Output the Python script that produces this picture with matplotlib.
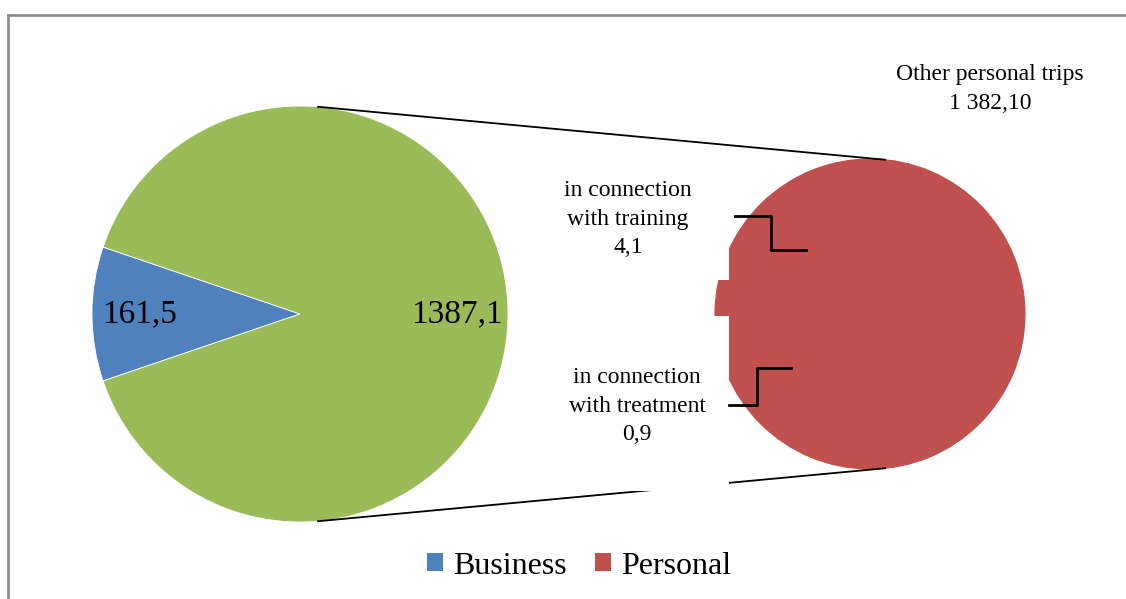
import numpy as np
import matplotlib
matplotlib.use("Agg")
import matplotlib.pyplot as plt
from matplotlib.patches import Rectangle, Patch
from matplotlib.lines import Line2D

plt.rcParams["font.family"] = ["Liberation Serif", "DejaVu Serif"]

# ── Data ─────────────────────────────────────────────────────────────────────
main_labels = ["Business", "Personal"]
main_values = [161.5, 1387.1]
main_colors = ["#4F81BD", "#9BBB59"]

sub_labels = ["in connection\nwith training", "in connection\nwith treatment", "Other personal trips"]
sub_values = [4.1, 0.9, 1382.10]
sub_color = "#C0504D"

W, H = 1126, 599


def fmt1(v):
    return f"{v:.1f}".replace(".", ",")


def fmt2(v):
    return f"{v:,.2f}".replace(",", " ").replace(".", ",")


fig = plt.figure(figsize=(W / 100, H / 100), dpi=100)
ax = fig.add_axes([0, 0, 1, 1])
ax.set_xlim(0, W)
ax.set_ylim(0, H)
ax.axis("off")

# ── Primary pie ──────────────────────────────────────────────────────────────
c1, r1 = (300, H - 314), 208
total = sum(main_values)
start = 180 - main_values[0] / total * 360 / 2
wedges, _ = ax.pie(main_values, colors=main_colors, startangle=start, radius=r1,
                   center=c1, frame=True, wedgeprops=dict(linewidth=0.6, edgecolor="white"))
for w, v, k in zip(wedges, main_values, [0.77, 0.755]):
    a = np.deg2rad((w.theta1 + w.theta2) / 2)
    ax.text(c1[0] + k * r1 * np.cos(a), c1[1] + k * r1 * np.sin(a), fmt1(v),
            ha="center", va="center", fontsize=24, zorder=5)

# ── Secondary pie (Personal breakdown) ──────────────────────────────────────
c2, r2 = (870, H - 314), 155
sub_total = sum(sub_values)
ax.pie(sub_values, colors=[sub_color] * 3, startangle=180 - sub_values[0] / sub_total * 360,
       radius=r2, center=c2, frame=True, wedgeprops=dict(linewidth=0.8, edgecolor=sub_color))

# connector lines
for a1, a2 in [(85, 84.4), (-85, -84.4)]:
    p1 = (c1[0] + r1 * np.cos(np.deg2rad(a1)), c1[1] + r1 * np.sin(np.deg2rad(a1)))
    p2 = (c2[0] + r2 * np.cos(np.deg2rad(a2)), c2[1] + r2 * np.sin(np.deg2rad(a2)))
    ax.plot([p1[0], p2[0]], [p1[1], p2[1]], color="black", lw=1.3, zorder=3)

# label boxes (white background, as drawn by the original)
ax.add_patch(Rectangle((555, H - 280), 729 - 555, 115, facecolor="white", edgecolor="none", zorder=4))
ax.add_patch(Rectangle((555, H - 490.5), 729 - 555, 490.5 - 316, facecolor="white", edgecolor="none", zorder=4))

ax.text(628, H - 219, f"{sub_labels[0]}\n{fmt1(sub_values[0])}", ha="center", va="center",
        fontsize=17, linespacing=1.45, zorder=6)
ax.text(637, H - 406, f"{sub_labels[1]}\n{fmt1(sub_values[1])}", ha="center", va="center",
        fontsize=17, linespacing=1.45, zorder=6)
ax.text(990, H - 89, f"{sub_labels[2]}\n{fmt2(sub_values[2])}", ha="center", va="center",
        fontsize=17, linespacing=1.45, zorder=6)

# leader lines
ax.plot([735, 771, 771, 806], [H - 216, H - 216, H - 250, H - 250], color="black", lw=2, zorder=6)
ax.plot([729, 757, 757, 791], [H - 405, H - 405, H - 368, H - 368], color="black", lw=2, zorder=6)

ax.set_xlim(0, W)
ax.set_ylim(0, H)
ax.set_aspect("auto")

# ── Chart frame ──────────────────────────────────────────────────────────────
fig.add_artist(Line2D([8 / W, 8 / W], [0, 1 - 15 / H], color="#8E8E8E", lw=2, transform=fig.transFigure))
fig.add_artist(Line2D([8 / W, 1], [1 - 15 / H, 1 - 15 / H], color="#8E8E8E", lw=2, transform=fig.transFigure))

# ── Legend ───────────────────────────────────────────────────────────────────
handles = [Patch(facecolor=main_colors[0]), Patch(facecolor=sub_color)]
fig.legend(handles, main_labels, loc="center", bbox_to_anchor=(579 / W, 1 - 566 / H), ncol=2,
           frameon=False, fontsize=23, handlelength=0.5, handleheight=0.5, handletextpad=0.3,
           columnspacing=0.9)

fig.savefig("out.png", dpi=100)
